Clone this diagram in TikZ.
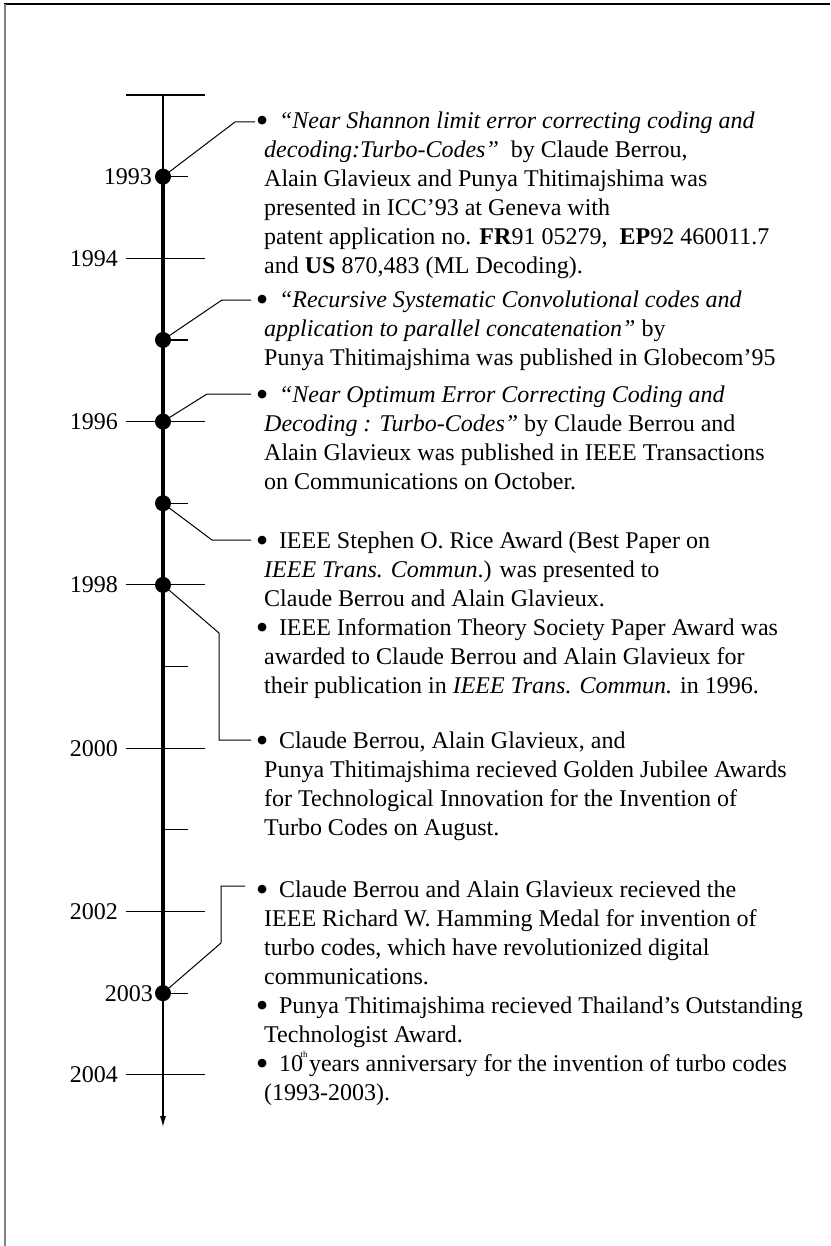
\documentclass[tikz,border=0pt]{standalone}
\usepackage{graphicx}
\usepackage{fontspec}
\setmainfont{Liberation Serif}
\usetikzlibrary{arrows.meta}
\definecolor{framegray}{HTML}{808080}
% enlarged list bullet that hangs slightly left of the text margin
\newcommand\entrybullet{\strut\hspace*{-8.3pt}\raisebox{-4pt}{\scalebox{1.5}{\textbullet}}\hspace{10.5pt}}
\newcommand\ordth{\hspace{-2.5pt}\rlap{\raisebox{13.5pt}{\fontsize{9}{9}\selectfont th}}\hspace{2.5pt}}
\begin{document}
\begin{tikzpicture}[x=1pt,y=-1pt,
  thinaxis/.style={line width=1.1pt},
  thickaxis/.style={line width=4.5pt},
  tickline/.style={line width=1.1pt},
  link/.style={line width=1pt},
  yeardot/.style={circle,fill=black,inner sep=0pt,minimum size=16pt},
  yearlbl/.style={anchor=east,inner sep=0pt,font=\fontsize{24}{29}\selectfont},
  entry/.style={anchor=north west,inner sep=0pt,align=left,font=\fontsize{24}{29}\selectfont}]
\useasboundingbox (0,0) rectangle (830,1246);

% frame
\draw[line width=1.2pt] (4,4) -- (830,4);
\draw[framegray,line width=1.5pt] (5,4) -- (5,1246);

% year positions along the axis
\foreach \yr in {1992,...,2004}
  \coordinate (y\yr) at (163,{95+(\yr-1992)*81.65});
\coordinate (top) at (163,95);
\coordinate (tip) at (163,1127);

% ticks: long ones on even years, short ones on odd years
\foreach \yr in {1992,1994,...,2004}
  \draw[tickline] (y\yr) ++(-37,0) -- ++(79,0);
\foreach \yr in {1993,1995,...,2003}
  \draw[tickline] (y\yr) -- ++(25,0);

% axis
\draw[thinaxis] (top) -- (y1993);
\draw[thickaxis] (y1993) -- (y2003);
\draw[thinaxis,-{Latex[length=11pt,width=6pt]}] (y2003) -- (tip);

% event dots
\node[yeardot] (d93) at (y1993) {};
\node[yeardot] (d95) at (y1995) {};
\node[yeardot] (d96) at (y1996) {};
\node[yeardot] (d97) at (y1997) {};
\node[yeardot] (d98) at (y1998) {};
\node[yeardot] (d03) at (y2003) {};

% year labels
\node[yearlbl] (l1993) at ([xshift=-11pt]y1993) {1993};
\node[yearlbl] (l1994) at ([xshift=-45pt]y1994) {1994};
\node[yearlbl] (l1996) at ([xshift=-45pt]y1996) {1996};
\node[yearlbl] (l1998) at ([xshift=-45pt]y1998) {1998};
\node[yearlbl] (l2000) at ([xshift=-45pt]y2000) {2000};
\node[yearlbl] (l2002) at ([xshift=-45pt]y2002) {2002};
\node[yearlbl] (l2003) at ([xshift=-10pt]y2003) {2003};
\node[yearlbl] (l2004) at ([xshift=-45pt]y2004) {2004};

% event texts (top = first baseline - 20.3)
\node[entry] (e1) at (264,107.7) {\entrybullet\textit{“Near Shannon limit error correcting coding and}\\
\textit{decoding:Turbo-Codes”}\ \ by Claude Berrou,\\
Alain Glavieux and Punya Thitimajshima was\\
presented in ICC’93 at Geneva with\\
patent application no. \textbf{FR}91 05279,\ \ \textbf{EP}92 460011.7\\
and \textbf{US} 870,483 (ML Decoding).};

\node[entry] (e2) at (264,286.7) {\entrybullet\textit{“Recursive Systematic Convolutional codes and}\\
\textit{application to parallel concatenation”} by\\
Punya Thitimajshima was published in Globecom’95};

\node[entry] (e3) at (264,381.7) {\entrybullet\textit{“Near Optimum Error Correcting Coding and}\\
\textit{Decoding : Turbo-Codes”} by Claude Berrou and\\
Alain Glavieux was published in IEEE Transactions\\
on Communications on October.};

\node[entry] (e4) at (264,527.7) {\entrybullet IEEE Stephen O. Rice Award (Best Paper on\\
\textit{IEEE Trans. Commun}.) was presented to\\
Claude Berrou and Alain Glavieux.\\
\entrybullet IEEE Information Theory Society Paper Award was\\
awarded to Claude Berrou and Alain Glavieux for\\
their publication in \textit{IEEE Trans. Commun.} in 1996.};

\node[entry] (e5) at (264,727.7) {\entrybullet Claude Berrou, Alain Glavieux, and\\
Punya Thitimajshima recieved Golden Jubilee Awards\\
for Technological Innovation for the Invention of\\
Turbo Codes on August.};

\node[entry] (e6) at (264,876.7) {\entrybullet Claude Berrou and Alain Glavieux recieved the\\
IEEE Richard W. Hamming Medal for invention of\\
turbo codes, which have revolutionized digital\\
communications.\\
\entrybullet Punya Thitimajshima recieved Thailand’s Outstanding\\
Technologist Award.\\
\entrybullet 10\ordth\ years anniversary for the invention of turbo codes\\
(1993-2003).};

% connector ends beside the bullets
\coordinate (k1a) at (235,122);  \coordinate (k1) at (255,122);
\coordinate (k2a) at (222,300);  \coordinate (k2) at (251,300);
\coordinate (k3a) at (207,394);  \coordinate (k3) at (251,394);
\coordinate (k4a) at (212,540);  \coordinate (k4) at (251,540);
\coordinate (k5a) at (219,633);  \coordinate (k5b) at (219,740); \coordinate (k5) at (251,740);
\coordinate (k6a) at (221,943);  \coordinate (k6b) at (221,886); \coordinate (k6) at (245,886);

\draw[link] (d93.center) -- (k1a) -- (k1);
\draw[link] (d95.center) -- (k2a) -- (k2);
\draw[link] (d96.center) -- (k3a) -- (k3);
\draw[link] (d97.center) -- (k4a) -- (k4);
\draw[link] (d98.center) -- (k5a) -- (k5b) -- (k5);
\draw[link] (d03.center) -- (k6a) -- (k6b) -- (k6);
\end{tikzpicture}
\end{document}
